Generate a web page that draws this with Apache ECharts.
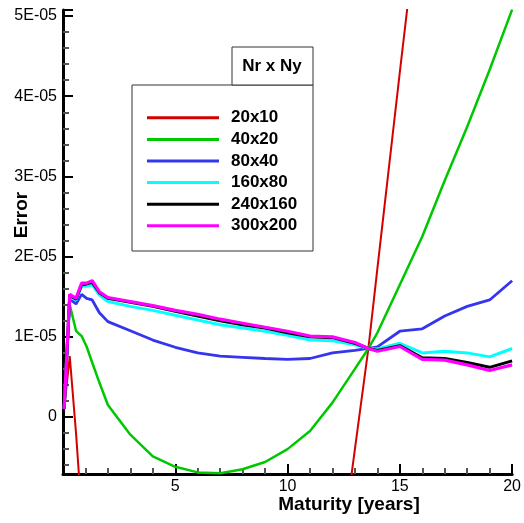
<!DOCTYPE html>
<html>
<head>
<meta charset="utf-8">
<script src="https://cdn.jsdelivr.net/npm/echarts@6/dist/echarts.min.js"></script>
<style>
  html, body { margin: 0; padding: 0; background: #fff; }
  #chart { width: 524px; height: 523px; }
</style>
</head>
<body>
<div id="chart"></div>
<script>
// maturity in years, errors in units of 1E-05
const maturity = [0.05, 0.3, 0.58, 0.83, 1.05, 1.3, 1.62, 2, 3, 4, 5, 6, 7, 8, 9, 10, 11, 12, 13, 13.6, 14, 15, 16, 17, 18, 19, 20]
const grid20x10 = [0.1, 0.76, -0.2, -1.2, -1.8, -2.4, -3.0, -3.5, -4.5, -5.2, -5.6, -5.8, -5.8, -5.6, -5.2, -4.7, -4.0, -2.5, -0.4, 0.855, 1.85, 4.3, 6.7, 9.1, 11.5, 13.9, 16.3]
const grid40x20 = [0.1, 1.4, 1.075, 1.01, 0.88, 0.68, 0.43, 0.15, -0.22, -0.49, -0.62, -0.69, -0.70, -0.65, -0.56, -0.40, -0.175, 0.18, 0.60, 0.855, 1.05, 1.65, 2.25, 2.95, 3.62, 4.33, 5.08]
const grid80x40 = [0.1, 1.47, 1.41, 1.53, 1.48, 1.46, 1.30, 1.19, 1.075, 0.96, 0.87, 0.80, 0.76, 0.745, 0.73, 0.72, 0.73, 0.80, 0.83, 0.855, 0.875, 1.07, 1.10, 1.26, 1.38, 1.46, 1.70]
const grid160x80 = [0.1, 1.50, 1.46, 1.63, 1.63, 1.65, 1.52, 1.44, 1.38, 1.33, 1.27, 1.21, 1.15, 1.11, 1.07, 1.02, 0.96, 0.95, 0.90, 0.855, 0.85, 0.92, 0.80, 0.82, 0.80, 0.75, 0.855]
const grid240x160 = [0.1, 1.52, 1.47, 1.65, 1.66, 1.68, 1.55, 1.48, 1.43, 1.38, 1.32, 1.26, 1.20, 1.15, 1.11, 1.05, 1.00, 0.99, 0.92, 0.855, 0.83, 0.89, 0.74, 0.73, 0.68, 0.62, 0.70]
const grid300x200 = [0.1, 1.53, 1.48, 1.67, 1.67, 1.70, 1.56, 1.49, 1.44, 1.39, 1.33, 1.28, 1.22, 1.17, 1.12, 1.07, 1.01, 1.00, 0.93, 0.855, 0.82, 0.88, 0.72, 0.71, 0.65, 0.58, 0.65]

const seriesNames = ['20x10', '40x20', '80x40', '160x80', '240x160', '300x200']
const seriesColors = ['#d40000', '#00c800', '#3535f0', '#00ffff', '#000000', '#ff00ff']
const seriesWidths = [2, 2.5, 2.8, 3, 3, 3.2]
const seriesData = [grid20x10, grid40x20, grid80x40, grid160x80, grid240x160, grid300x200]

const font = 'Liberation Sans, Arial, sans-serif'
const myChart = echarts.init(document.getElementById('chart'))

myChart.setOption({
  animation: false,
  grid: { left: 63, right: 9, top: 10, bottom: 49 },
  xAxis: {
    type: 'value',
    min: 0,
    max: 20,
    interval: 5,
    axisLine: { onZero: false, lineStyle: { color: '#000', width: 3 } },
    axisTick: { inside: true, length: 10, lineStyle: { color: '#000', width: 2 } },
    minorTick: { show: true, splitNumber: 5, length: 6, lineStyle: { color: '#555', width: 2 } },
    splitLine: { show: false },
    axisLabel: { showMinLabel: false, margin: 5, color: '#000', fontSize: 16, fontFamily: font }
  },
  yAxis: {
    type: 'value',
    min: -0.71,
    max: 5.075,
    axisLine: { show: true, onZero: false, lineStyle: { color: '#000', width: 3 } },
    axisTick: { show: true, inside: true, length: 10, lineStyle: { color: '#000', width: 2 } },
    minorTick: { show: true, splitNumber: 5, length: 6, lineStyle: { color: '#555', width: 2 } },
    splitLine: { show: false },
    axisLabel: {
      showMinLabel: false,
      showMaxLabel: false,
      margin: 6,
      color: '#000',
      fontSize: 16,
      fontFamily: font,
      formatter: function(v) {
        return v === 0 ? '0' : v + 'E-05'
      }
    }
  },
  legend: {
    orient: 'vertical',
    left: 147,
    top: 108,
    padding: 0,
    itemGap: 2,
    itemWidth: 72,
    itemHeight: 3,
    icon: 'rect',
    selectedMode: false,
    data: seriesNames,
    textStyle: { fontSize: 17, fontWeight: 'bold', fontFamily: font, color: '#000', lineHeight: 19.6, padding: [0, 0, 0, 7] }
  },
  graphic: [
    { type: 'rect', shape: { x: 132, y: 85, width: 181, height: 166 }, style: { fill: '#fff', stroke: '#333', lineWidth: 1 }, z: 1 },
    { type: 'rect', shape: { x: 232, y: 47, width: 81, height: 38 }, style: { fill: '#fff', stroke: '#333', lineWidth: 1 }, z: 1 },
    { type: 'text', x: 272, y: 66, z: 5, style: { text: 'Nr x Ny', fill: '#000', font: 'bold 17px ' + font, textAlign: 'center', textVerticalAlign: 'middle' } },
    { type: 'text', x: 22, y: 215, rotation: Math.PI / 2, z: 5, style: { text: 'Error', fill: '#000', font: 'bold 19px ' + font, textAlign: 'center', textVerticalAlign: 'middle' } },
    { type: 'text', x: 349, y: 505, z: 5, style: { text: 'Maturity [years]', fill: '#000', font: 'bold 19px ' + font, textAlign: 'center', textVerticalAlign: 'middle' } }
  ],
  series: seriesNames.map(function(name, i) {
    return {
      name: name,
      type: 'line',
      showSymbol: false,
      clip: true,
      color: seriesColors[i],
      lineStyle: { width: seriesWidths[i] },
      data: maturity.map(function(m, k) { return [m, seriesData[i][k]] })
    }
  })
})
</script>
</body>
</html>
